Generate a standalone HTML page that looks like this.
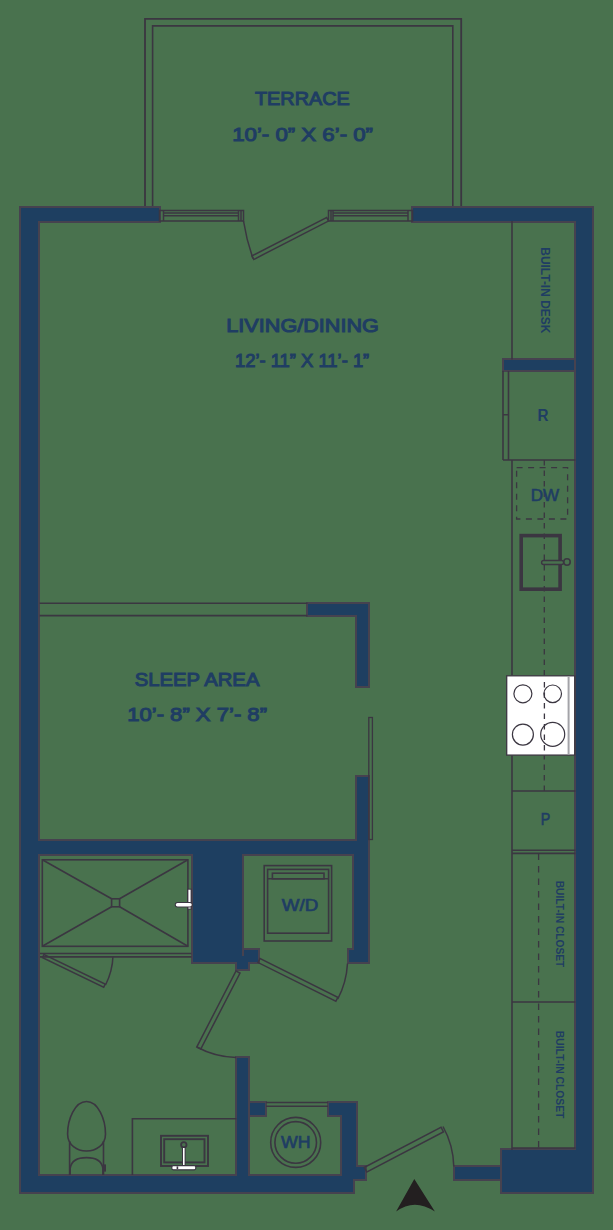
<!DOCTYPE html>
<html><head><meta charset="utf-8">
<style>
html,body{margin:0;padding:0;background:#49724e;}
svg{display:block;}
text{font-family:"Liberation Sans",sans-serif;font-weight:bold;fill:#1f3d63;}
</style></head>
<body>
<svg width="613" height="1230" viewBox="0 0 613 1230">
<rect x="0" y="0" width="613" height="1230" fill="#49724e"/>

<!-- terrace railing -->
<g fill="none" stroke="#3b3641">
<path d="M145,207 V18.8 H461.2 V207" stroke-width="1.8"/>
<path d="M152.6,207 V25.9 H452.8 V207" stroke-width="1.6"/>
</g>

<!-- walls: stroke pass -->
<defs><g id="walls">
<rect x="21.5" y="208.5" width="137.0" height="12.0"/>
<rect x="21.5" y="208.5" width="16.0" height="983.0"/>
<rect x="413.5" y="208.5" width="178.0" height="12.0"/>
<rect x="576.5" y="208.5" width="15.0" height="983.0"/>
<rect x="504.5" y="360.5" width="69.0" height="9.0"/>
<rect x="502.5" y="1150.5" width="89.0" height="41.0"/>
<rect x="455.5" y="1167.5" width="44.0" height="11.0"/>
<rect x="21.5" y="1176.5" width="331.0" height="15.0"/>
<rect x="342.5" y="1167.5" width="22.0" height="11.0"/>
<rect x="342.5" y="1103.5" width="13.0" height="75.0"/>
<rect x="329.5" y="1103.5" width="26.0" height="11.0"/>
<rect x="250.5" y="1103.5" width="14.0" height="11.0"/>
<rect x="237.5" y="1058.5" width="10.0" height="133.0"/>
<rect x="21.5" y="841.5" width="346.0" height="12.0"/>
<rect x="193.5" y="841.5" width="48.0" height="120.0"/>
<rect x="244.5" y="950.5" width="13.0" height="11.0"/>
<rect x="237.5" y="956.5" width="10.0" height="12.0"/>
<rect x="354.5" y="841.5" width="13.0" height="120.0"/>
<rect x="349.5" y="950.5" width="18.0" height="11.0"/>
<rect x="308.5" y="604.5" width="59.0" height="10.0"/>
<rect x="357.5" y="604.5" width="10.0" height="81.0"/>
<rect x="357.5" y="777.5" width="10.0" height="76.0"/>
</g></defs>
<use href="#walls" fill="#1e3f61" stroke="#46424f" stroke-width="5"/>
<use href="#walls" fill="#1e3f61" stroke="#1e3f61" stroke-width="1"/>

<!-- partition lines sleep area -->
<g fill="none" stroke="#3b3641" stroke-width="1.6">
<path d="M39.5,603.2 H307.5 M39.5,615.6 H307.5"/>
<!-- sliding door -->
<rect x="368.8" y="717.5" width="3.6" height="122" stroke-width="1.3"/>
</g>

<!-- terrace windows/sills -->
<g fill="none" stroke="#3b3641" stroke-width="1.5">
<rect x="159.5" y="210.5" width="84" height="10.5"/>
<path d="M163.5,213 H238.5 M163.5,215.7 H238.5 M163.5,210.5 V221 M238.5,210.5 V221 M241,210.5 V221"/>
<rect x="328.5" y="210.5" width="84" height="10.5"/>
<path d="M333,213 H408 M333,215.7 H408 M331,210.5 V221 M333,210.5 V221 M408,210.5 V221"/>
<!-- terrace door -->
<path d="M243.5,221 Q246.5,240 253,258.5" stroke-width="1.5"/>
<g transform="translate(328.5,221) rotate(152.8)">
<rect x="0" y="0" width="84" height="4"/>
</g>
</g>

<!-- labels -->
<text x="302.4" y="105.4" font-size="19" style="font-weight:normal" stroke="#1f3d63" stroke-width="1.05" text-anchor="middle" textLength="95.0" lengthAdjust="spacingAndGlyphs">TERRACE</text>
<text x="302.6" y="140.5" font-size="19" style="font-weight:normal" stroke="#1f3d63" stroke-width="1.05" text-anchor="middle" textLength="140.8" lengthAdjust="spacingAndGlyphs">10’- 0” X 6’- 0”</text>
<text x="302.6" y="332.3" font-size="19" style="font-weight:normal" stroke="#1f3d63" stroke-width="1.05" text-anchor="middle" textLength="152.6" lengthAdjust="spacingAndGlyphs">LIVING/DINING</text>
<text x="302.1" y="367.4" font-size="19" style="font-weight:normal" stroke="#1f3d63" stroke-width="1.05" text-anchor="middle" textLength="134.3" lengthAdjust="spacingAndGlyphs">12’- 11” X 11’- 1”</text>
<text x="197.1" y="686.4" font-size="19" style="font-weight:normal" stroke="#1f3d63" stroke-width="1.05" text-anchor="middle" textLength="124.6" lengthAdjust="spacingAndGlyphs">SLEEP AREA</text>
<text x="197.1" y="721.3" font-size="19" style="font-weight:normal" stroke="#1f3d63" stroke-width="1.05" text-anchor="middle" textLength="139.8" lengthAdjust="spacingAndGlyphs">10’- 8” X 7’- 8”</text>

<!-- kitchen / counters -->
<g fill="none" stroke="#3b3641" stroke-width="1.6">
<path d="M512,221 V359.5"/>
<path d="M503,371 V460 M508.5,371 V460 M503,414.8 H508.5 M503,460 H575.5"/>
<path d="M512,460 V675.5 M512,755.5 V1150"/>
<path d="M512,791 H575.5 M512,850.2 H575.5 M512,853.4 H575.5 M512,1002 H575.5 M512,1148 H575.5"/>
</g>
<g fill="none" stroke="#3b3641" stroke-width="1.3">
<path d="M544.3,460 V791" stroke-dasharray="5.5 5"/>
<path d="M538.6,853.4 V1148" stroke-dasharray="6.5 6"/>
<rect x="516.6" y="467.7" width="51" height="51.3" stroke-dasharray="6 5.5"/>
</g>
<!-- sink -->
<rect x="521.2" y="535.6" width="38.9" height="53.6" fill="none" stroke="#3b3641" stroke-width="3.6"/>
<rect x="541.6" y="560.5" width="22" height="4" rx="2" fill="#49724e" stroke="#3b3641" stroke-width="1.4"/>
<circle cx="567" cy="562" r="3.2" fill="#49724e" stroke="#3b3641" stroke-width="1.6"/>
<!-- stove -->
<rect x="506.7" y="675.8" width="68" height="79.3" fill="#ffffff" stroke="#3b3641" stroke-width="1.3"/>
<path d="M568.6,676.5 V754.5" stroke="#a3a3a8" stroke-width="2"/>
<path d="M544.4,682 V755" stroke="#3b3641" stroke-width="1.3" stroke-dasharray="5.5 5" fill="none"/>
<g fill="none" stroke="#3b3641" stroke-width="1.2">
<circle cx="522.9" cy="693.8" r="9"/>
<circle cx="552.7" cy="693.8" r="8.8"/>
<circle cx="522.9" cy="734.6" r="10.5"/>
<circle cx="552.7" cy="734.3" r="12"/>
</g>
<!-- appliance labels -->
<text x="543" y="420.8" font-size="17.2" text-anchor="middle" textLength="11" lengthAdjust="spacingAndGlyphs">R</text>
<text x="545" y="500.6" font-size="16.8" style="font-weight:normal" stroke="#1f3d63" stroke-width="0.6" text-anchor="middle" textLength="28.5" lengthAdjust="spacingAndGlyphs">DW</text>
<text x="545.5" y="824.6" font-size="16.8" style="font-weight:normal" stroke="#1f3d63" stroke-width="0.6" text-anchor="middle" textLength="9.5" lengthAdjust="spacingAndGlyphs">P</text>
<text transform="translate(541,290.3) rotate(90)" font-size="13" text-anchor="middle" textLength="86" lengthAdjust="spacingAndGlyphs">BUILT-IN DESK</text>
<text transform="translate(556,924) rotate(90)" font-size="10.2" text-anchor="middle" textLength="86.5" lengthAdjust="spacingAndGlyphs">BUILT-IN CLOSET</text>
<text transform="translate(556.3,1074.6) rotate(90)" font-size="10.2" text-anchor="middle" textLength="87.5" lengthAdjust="spacingAndGlyphs">BUILT-IN CLOSET</text>

<!-- shower -->
<g fill="none" stroke="#3b3641" stroke-width="1.6">
<rect x="42.3" y="859.8" width="145.6" height="86.5"/>
<path d="M42.3,859.8 L111.6,898.8 M187.9,859.8 L119.6,898.8 M42.3,946.3 L111.6,906.8 M187.9,946.3 L119.6,906.8"/>
<rect x="111.6" y="898.8" width="8" height="8"/>
<path d="M40,953.6 H191.5" stroke-width="1.5"/>
<path d="M40,956.9 H191.5" stroke-width="1.9"/>
</g>
<path d="M189.5,888.7 V909.6" stroke="#3b3641" stroke-width="4.4" />
<path d="M189.5,889.7 V908.6" stroke="#ffffff" stroke-width="2.2" />
<path d="M177.5,904.8 H190" stroke="#3b3641" stroke-width="5.4" stroke-linecap="round"/>
<path d="M177.5,904.8 H190" stroke="#ffffff" stroke-width="3.4" stroke-linecap="round"/>

<!-- doors -->
<g fill="none" stroke="#3b3641" stroke-width="1.5">
<g transform="translate(44,954.5) rotate(25.8)"><rect x="0" y="0" width="68" height="3.5"/></g>
<path d="M105.5,985 A69,69 0 0 0 113,956"/>
<g transform="translate(236,971) rotate(117.3)"><rect x="0" y="-4.5" width="85.5" height="4.5"/></g>
<path d="M196.8,1047 A86,86 0 0 0 236,1057.5"/>
<g transform="translate(260,958.5) rotate(26.5)"><rect x="0" y="0" width="87" height="4.5"/></g>
<path d="M337.8,999 A87,87 0 0 0 347.5,963.5"/>
<g transform="translate(366.8,1172) rotate(-27.6)"><rect x="0" y="-5.2" width="86.5" height="5.2"/></g>
<path d="M443,1126.5 A87,87 0 0 1 453.8,1166.4"/>
</g>

<!-- W/D -->
<g fill="none" stroke="#3b3641" stroke-width="1.6">
<rect x="264.2" y="865.6" width="67.4" height="75.4"/>
<rect x="267.6" y="869.4" width="61" height="63.8"/>
<path d="M267.6,878.8 H328.6"/>
<rect x="272.4" y="873.2" width="51.6" height="5.6"/>
</g>
<text x="300.1" y="911.1" font-size="16.3" style="font-weight:normal" stroke="#1f3d63" stroke-width="0.7" text-anchor="middle" textLength="36.5" lengthAdjust="spacingAndGlyphs">W/D</text>

<!-- WH -->
<path d="M266,1102.5 H328 M266,1106.3 H328" fill="none" stroke="#3b3641" stroke-width="1.4"/>
<g fill="none" stroke="#3b3641" stroke-width="1.6">
<circle cx="295.7" cy="1142.4" r="25"/>
<circle cx="295.7" cy="1142.4" r="20.8"/>
</g>
<text x="295.7" y="1148.4" font-size="16.7" style="font-weight:normal" stroke="#1f3d63" stroke-width="0.7" text-anchor="middle" textLength="29.5" lengthAdjust="spacingAndGlyphs">WH</text>

<!-- toilet -->
<g fill="none" stroke="#3b3641" stroke-width="1.6">
<path d="M86.5,1101.5 C98,1101.5 105.5,1119 105.5,1134 C105.5,1145 96,1151 86.5,1151 C77,1151 67.6,1145 67.6,1134 C67.6,1119 75,1101.5 86.5,1101.5 Z"/>
<path d="M69.6,1141 V1175 M103.5,1141 V1175"/>
<path d="M70.2,1175 V1168 Q72,1157.6 86.5,1157.6 Q101,1157.6 102.9,1168 V1175"/>
</g>
<rect x="103" y="1164.4" width="3" height="7.2" fill="#3b3641"/>

<!-- vanity -->
<g fill="none" stroke="#3b3641" stroke-width="1.6">
<path d="M132.4,1175 V1118.8 H236.5"/>
<rect x="161" y="1135.8" width="47" height="30.2" stroke-width="1.9"/>
<rect x="164.2" y="1139.2" width="40.3" height="23.2" stroke-width="1.9"/>
</g>
<circle cx="183.8" cy="1144.8" r="2.7" fill="#49724e" stroke="#3b3641" stroke-width="1.8"/>
<path d="M183.8,1147 V1167" stroke="#3b3641" stroke-width="3.6"/>
<path d="M183.8,1148 V1166" stroke="#ffffff" stroke-width="1.6"/>
<rect x="171.8" y="1165.6" width="24" height="4.2" rx="1.5" fill="#ffffff" stroke="#3b3641" stroke-width="1.2"/>
<rect x="176.6" y="1166.4" width="1.6" height="2.6" fill="#3b3641"/>

<!-- north arrow -->
<path d="M414.3,1179 L434.9,1211.6 Q414.3,1197.8 396.1,1211.6 Z" fill="#231f20"/>

</svg>
</body></html>
